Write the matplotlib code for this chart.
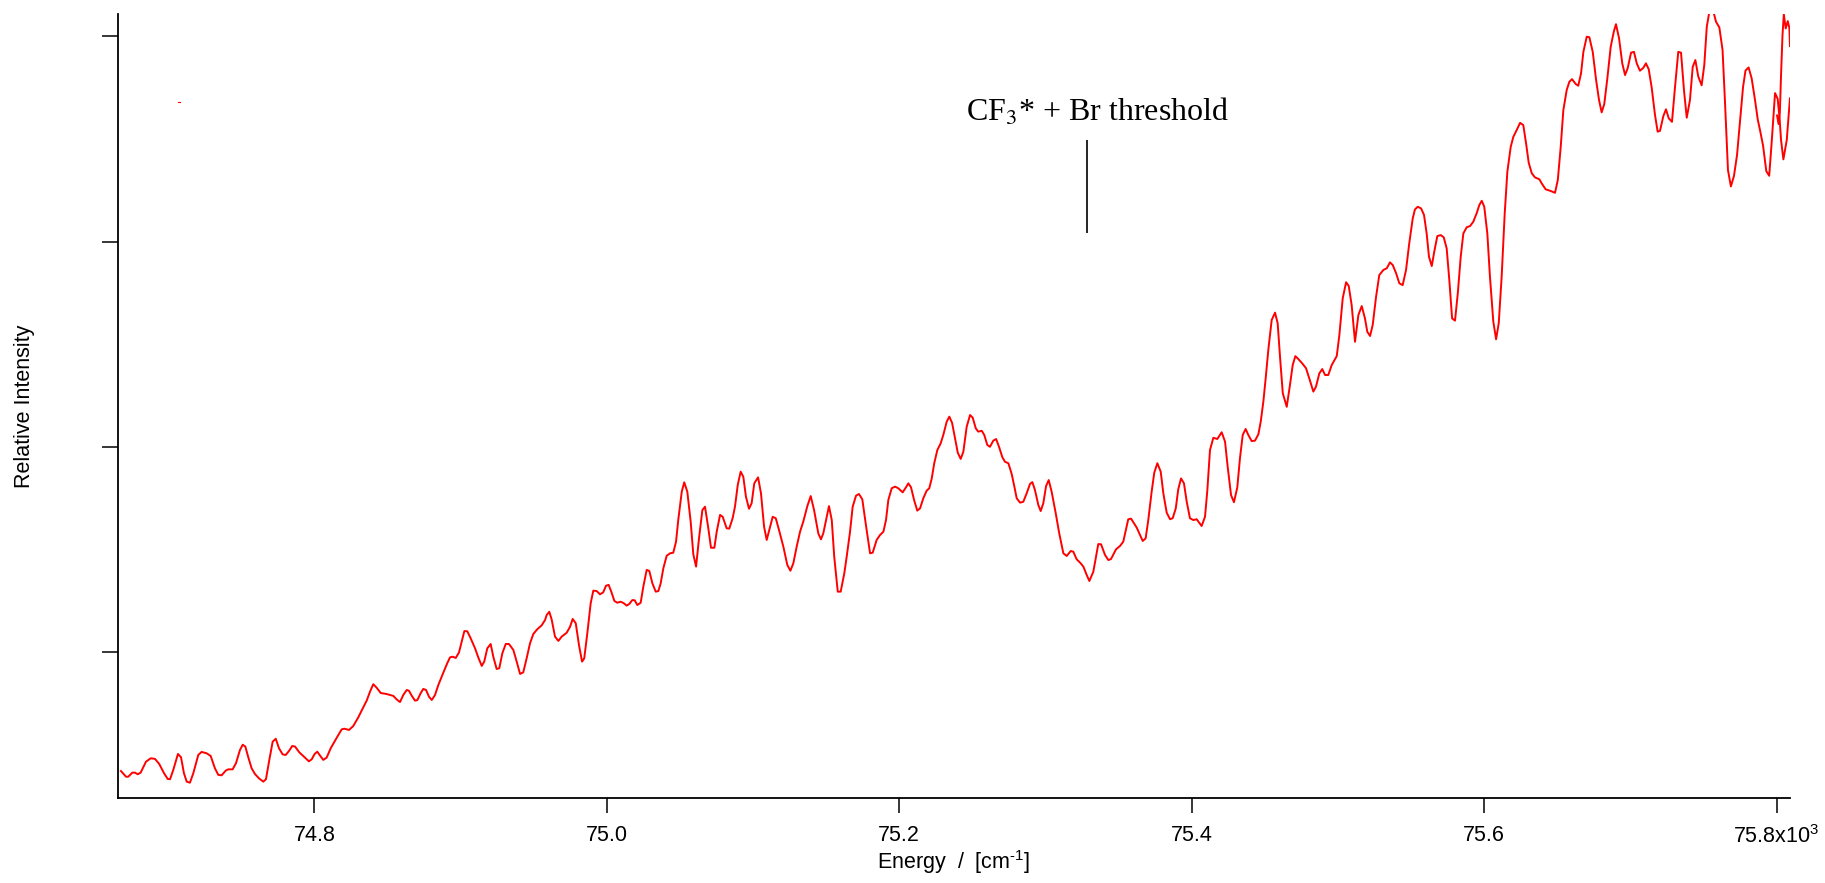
import numpy as np
import matplotlib
matplotlib.use("Agg")
import matplotlib.pyplot as plt
from matplotlib.ticker import FixedLocator, FuncFormatter

plt.rcParams["font.family"] = ["Liberation Sans", "DejaVu Sans"]
plt.rcParams["mathtext.fontset"] = "custom"
plt.rcParams["mathtext.rm"] = "Liberation Sans"
plt.rcParams["mathtext.it"] = "Liberation Sans:italic"

# photofragment excitation spectrum, energy in cm^-1, intensity in arb. units
energy_cm = [
    74667.6, 74671.1, 74672.6, 74675.4, 74677.2, 74679.1, 74681.1, 74684.7, 74688.0, 74690.9,
    74693.8, 74697.1, 74699.6, 74701.2, 74703.4, 74706.6, 74708.7, 74710.7, 74712.6, 74714.8,
    74717.1, 74720.5, 74722.8, 74726.3, 74729.0, 74731.9, 74734.2, 74736.5, 74739.3, 74741.0,
    74744.0, 74746.3, 74749.0, 74750.9, 74752.7, 74754.7, 74757.0, 74759.3, 74762.2, 74765.0,
    74766.8, 74769.1, 74771.4, 74773.5, 74775.7, 74778.2, 74780.3, 74782.6, 74784.8, 74786.7,
    74789.6, 74793.0, 74796.2, 74798.1, 74800.1, 74801.9, 74804.0, 74806.0, 74808.3, 74811.1,
    74815.2, 74818.6, 74820.4, 74823.6, 74826.5, 74830.0, 74832.7, 74835.7, 74838.0, 74840.2,
    74842.5, 74845.3, 74849.4, 74853.9, 74856.2, 74858.5, 74860.7, 74863.1, 74864.6, 74866.5,
    74868.7, 74870.3, 74872.6, 74874.4, 74876.3, 74878.3, 74880.2, 74882.4, 74884.7, 74888.1,
    74890.8, 74892.7, 74894.5, 74896.6, 74898.8, 74900.7, 74902.5, 74904.5, 74906.8, 74909.8,
    74912.0, 74914.4, 74916.1, 74918.2, 74920.5, 74922.3, 74924.6, 74926.4, 74928.5, 74930.8,
    74933.0, 74936.0, 74938.3, 74940.6, 74942.8, 74945.1, 74947.4, 74949.7, 74952.4, 74955.4,
    74957.7, 74958.8, 74960.6, 74962.2, 74964.5, 74966.8, 74969.1, 74972.5, 74974.8, 74976.6,
    74978.7, 74980.9, 74983.0, 74984.5, 74986.6, 74988.9, 74990.7, 74993.0, 74995.3, 74997.5,
    74999.4, 75001.2, 75003.0, 75005.1, 75007.1, 75009.4, 75011.7, 75013.5, 75015.3, 75017.4,
    75019.0, 75020.8, 75023.1, 75024.9, 75027.2, 75029.0, 75031.1, 75033.4, 75035.2, 75036.8,
    75038.6, 75040.9, 75043.2, 75045.4, 75047.3, 75048.8, 75051.2, 75052.9, 75055.0, 75057.3,
    75059.1, 75061.0, 75063.0, 75065.3, 75067.1, 75069.2, 75071.2, 75073.5, 75075.1, 75077.4,
    75079.2, 75081.9, 75083.7, 75086.0, 75087.6, 75089.5, 75091.5, 75093.3, 75095.1, 75097.2,
    75099.0, 75100.8, 75103.4, 75105.4, 75107.5, 75109.3, 75111.1, 75113.4, 75115.5, 75117.7,
    75120.7, 75123.4, 75125.5, 75127.5, 75129.8, 75132.1, 75134.3, 75137.1, 75139.4, 75141.7,
    75144.6, 75146.4, 75148.0, 75149.9, 75151.9, 75153.8, 75155.5, 75157.9, 75159.9, 75162.4,
    75164.0, 75166.3, 75168.1, 75170.4, 75172.4, 75174.7, 75177.0, 75180.0, 75181.8, 75184.5,
    75186.8, 75189.1, 75190.9, 75192.5, 75194.8, 75197.1, 75199.3, 75202.3, 75204.6, 75206.2,
    75208.0, 75210.1, 75212.3, 75214.2, 75216.4, 75218.7, 75220.5, 75222.2, 75223.9, 75226.0,
    75228.3, 75230.1, 75232.4, 75234.2, 75236.1, 75238.1, 75240.0, 75242.0, 75243.8, 75246.1,
    75248.4, 75250.2, 75252.3, 75254.0, 75256.4, 75258.1, 75260.2, 75262.0, 75264.3, 75266.2,
    75268.2, 75270.5, 75272.3, 75274.6, 75276.9, 75278.7, 75280.3, 75282.6, 75284.8, 75287.1,
    75289.4, 75291.0, 75292.8, 75295.1, 75296.7, 75298.5, 75300.4, 75302.2, 75304.2, 75307.0,
    75309.4, 75312.2, 75314.5, 75317.2, 75319.0, 75321.3, 75324.1, 75325.9, 75328.2, 75330.0,
    75332.7, 75336.1, 75338.0, 75340.7, 75343.0, 75344.8, 75348.2, 75351.0, 75353.2, 75356.6,
    75358.5, 75362.4, 75366.5, 75368.5, 75370.3, 75372.6, 75374.4, 75376.5, 75378.8, 75380.6,
    75382.9, 75385.2, 75387.0, 75389.1, 75390.8, 75392.7, 75394.7, 75396.6, 75398.8, 75401.1,
    75403.4, 75406.8, 75409.1, 75410.7, 75412.5, 75414.8, 75417.5, 75420.5, 75422.8, 75424.6,
    75426.9, 75428.9, 75431.2, 75433.0, 75434.9, 75436.9, 75438.7, 75441.0, 75443.3, 75445.6,
    75447.2, 75449.0, 75450.6, 75452.4, 75454.7, 75457.0, 75458.8, 75460.4, 75462.3, 75465.0,
    75467.2, 75469.1, 75470.9, 75472.9, 75475.9, 75478.2, 75480.4, 75483.2, 75485.0, 75487.3,
    75489.3, 75491.2, 75493.4, 75495.8, 75499.2, 75501.0, 75503.3, 75505.6, 75507.4, 75509.4,
    75511.7, 75514.0, 75516.3, 75518.5, 75520.1, 75522.0, 75523.8, 75526.1, 75528.3, 75531.1,
    75533.4, 75535.6, 75537.5, 75539.8, 75542.0, 75544.3, 75546.6, 75548.8, 75551.2, 75552.7,
    75554.6, 75556.9, 75558.9, 75560.7, 75562.3, 75564.2, 75565.9, 75568.0, 75570.3, 75572.4,
    75574.4, 75576.2, 75578.1, 75580.1, 75582.0, 75584.0, 75585.8, 75588.1, 75590.4, 75592.6,
    75594.9, 75596.7, 75598.4, 75600.1, 75602.2, 75604.0, 75606.3, 75608.2, 75610.0, 75612.0,
    75614.1, 75615.9, 75618.2, 75620.0, 75622.3, 75624.6, 75626.8, 75628.7, 75630.5, 75632.6,
    75634.8, 75637.8, 75639.4, 75642.1, 75645.1, 75648.5, 75650.4, 75652.4, 75654.2, 75656.5,
    75658.3, 75660.1, 75662.7, 75664.4, 75666.3, 75667.9, 75670.2, 75672.0, 75674.3, 75676.6,
    75678.6, 75680.4, 75682.2, 75684.3, 75686.6, 75688.7, 75690.2, 75692.3, 75694.5, 75696.4,
    75698.2, 75700.5, 75702.5, 75704.4, 75706.6, 75708.9, 75710.7, 75712.6, 75714.6, 75716.9,
    75718.7, 75720.3, 75722.6, 75724.4, 75726.3, 75728.5, 75730.6, 75732.8, 75734.7, 75736.7,
    75738.6, 75740.8, 75742.7, 75744.5, 75746.5, 75748.8, 75750.6, 75752.3, 75755.2, 75758.6,
    75760.9, 75763.1, 75764.8, 75766.8, 75768.8, 75770.9, 75773.0, 75775.4, 75777.1, 75778.8,
    75780.9, 75783.0, 75785.3, 75787.2, 75788.9, 75790.8, 75793.0, 75795.0, 75796.7, 75799.0,
    75800.8, 75802.1, 75803.1, 75804.7, 75807.0, 75809.2,
]

intensity = [
    0.420, 0.392, 0.392, 0.412, 0.412, 0.404, 0.412, 0.465, 0.482, 0.479,
    0.454, 0.409, 0.381, 0.380, 0.425, 0.503, 0.487, 0.409, 0.368, 0.363,
    0.409, 0.498, 0.513, 0.506, 0.493, 0.433, 0.401, 0.399, 0.422, 0.428,
    0.428, 0.458, 0.522, 0.548, 0.539, 0.487, 0.433, 0.405, 0.383, 0.368,
    0.380, 0.474, 0.563, 0.577, 0.531, 0.501, 0.498, 0.518, 0.542, 0.539,
    0.511, 0.488, 0.467, 0.477, 0.503, 0.514, 0.493, 0.474, 0.485, 0.531,
    0.582, 0.623, 0.626, 0.620, 0.639, 0.682, 0.721, 0.763, 0.807, 0.843,
    0.826, 0.800, 0.795, 0.786, 0.769, 0.756, 0.790, 0.815, 0.811, 0.787,
    0.763, 0.765, 0.799, 0.820, 0.815, 0.782, 0.766, 0.790, 0.839, 0.899,
    0.945, 0.974, 0.977, 0.971, 0.997, 1.050, 1.102, 1.101, 1.067, 1.018,
    0.974, 0.932, 0.953, 1.018, 1.039, 0.977, 0.917, 0.921, 0.994, 1.039,
    1.039, 1.010, 0.953, 0.893, 0.901, 0.969, 1.042, 1.088, 1.111, 1.130,
    1.156, 1.180, 1.196, 1.159, 1.075, 1.054, 1.075, 1.094, 1.123, 1.161,
    1.140, 1.034, 0.953, 0.969, 1.091, 1.237, 1.299, 1.297, 1.281, 1.291,
    1.323, 1.327, 1.294, 1.249, 1.240, 1.245, 1.237, 1.226, 1.234, 1.253,
    1.252, 1.229, 1.240, 1.318, 1.400, 1.395, 1.335, 1.294, 1.297, 1.335,
    1.408, 1.469, 1.481, 1.484, 1.538, 1.643, 1.781, 1.827, 1.781, 1.635,
    1.476, 1.416, 1.554, 1.692, 1.708, 1.611, 1.508, 1.508, 1.586, 1.668,
    1.659, 1.603, 1.601, 1.652, 1.708, 1.814, 1.879, 1.854, 1.757, 1.698,
    1.725, 1.822, 1.851, 1.773, 1.611, 1.546, 1.595, 1.659, 1.652, 1.595,
    1.513, 1.424, 1.396, 1.432, 1.513, 1.586, 1.635, 1.711, 1.760, 1.692,
    1.578, 1.549, 1.578, 1.643, 1.711, 1.643, 1.464, 1.294, 1.294, 1.384,
    1.464, 1.586, 1.708, 1.762, 1.770, 1.744, 1.627, 1.481, 1.484, 1.546,
    1.570, 1.586, 1.643, 1.741, 1.798, 1.806, 1.798, 1.778, 1.803, 1.822,
    1.803, 1.741, 1.689, 1.700, 1.749, 1.786, 1.798, 1.846, 1.920, 1.984,
    2.017, 2.058, 2.122, 2.147, 2.117, 2.041, 1.971, 1.941, 1.976, 2.098,
    2.155, 2.142, 2.090, 2.074, 2.078, 2.058, 2.009, 2.000, 2.030, 2.038,
    2.000, 1.949, 1.927, 1.920, 1.867, 1.806, 1.749, 1.728, 1.732, 1.773,
    1.819, 1.828, 1.789, 1.716, 1.687, 1.725, 1.809, 1.838, 1.781, 1.676,
    1.578, 1.481, 1.468, 1.492, 1.489, 1.452, 1.432, 1.416, 1.375, 1.346,
    1.391, 1.526, 1.525, 1.473, 1.448, 1.453, 1.500, 1.517, 1.538, 1.647,
    1.650, 1.606, 1.541, 1.554, 1.643, 1.781, 1.874, 1.920, 1.879, 1.773,
    1.679, 1.647, 1.652, 1.700, 1.793, 1.846, 1.822, 1.732, 1.652, 1.643,
    1.647, 1.614, 1.659, 1.789, 1.984, 2.044, 2.038, 2.071, 2.025, 1.903,
    1.765, 1.730, 1.803, 1.944, 2.058, 2.087, 2.058, 2.028, 2.030, 2.061,
    2.122, 2.220, 2.334, 2.472, 2.618, 2.654, 2.602, 2.439, 2.261, 2.195,
    2.301, 2.399, 2.442, 2.428, 2.404, 2.383, 2.334, 2.269, 2.293, 2.358,
    2.379, 2.350, 2.350, 2.399, 2.442, 2.545, 2.724, 2.802, 2.784, 2.691,
    2.512, 2.642, 2.686, 2.626, 2.561, 2.540, 2.594, 2.731, 2.837, 2.862,
    2.870, 2.899, 2.886, 2.846, 2.797, 2.788, 2.862, 2.992, 3.114, 3.157,
    3.170, 3.162, 3.130, 3.040, 2.926, 2.881, 2.951, 3.027, 3.032, 3.021,
    2.967, 2.813, 2.626, 2.615, 2.748, 2.926, 3.040, 3.070, 3.076, 3.097,
    3.138, 3.178, 3.199, 3.170, 3.040, 2.829, 2.610, 2.524, 2.602, 2.829,
    3.138, 3.341, 3.462, 3.511, 3.544, 3.579, 3.568, 3.479, 3.385, 3.333,
    3.313, 3.304, 3.284, 3.255, 3.248, 3.238, 3.300, 3.462, 3.641, 3.739,
    3.779, 3.792, 3.768, 3.760, 3.820, 3.925, 3.999, 3.996, 3.925, 3.788,
    3.690, 3.630, 3.671, 3.796, 3.950, 4.023, 4.060, 3.991, 3.869, 3.812,
    3.845, 3.921, 3.925, 3.869, 3.833, 3.847, 3.869, 3.840, 3.752, 3.617,
    3.536, 3.540, 3.612, 3.645, 3.601, 3.584, 3.755, 3.925, 3.921, 3.739,
    3.604, 3.690, 3.852, 3.885, 3.804, 3.762, 3.861, 4.047, 4.168, 4.072,
    4.044, 3.934, 3.675, 3.349, 3.269, 3.320, 3.422, 3.617, 3.753, 3.834,
    3.849, 3.796, 3.690, 3.594, 3.537, 3.468, 3.344, 3.321, 3.485, 3.724,
    3.696, 3.602, 3.495, 3.401, 3.495, 3.698,
]

# start of the overlapping second scan, running back in from the high-energy end
tail_energy_cm = [75809.2, 75808.8, 75807.7, 75806.3, 75805.0, 75804.1, 75803.1, 75802.3, 75801.4, 75800.4]
tail_intensity = [3.953, 4.041, 4.075, 4.039, 4.109, 4.007, 3.812, 3.632, 3.573, 3.615]

# lone stray point of the second scan
stray_energy_cm = [74706.3, 74708.0]
stray_intensity = [3.680, 3.680]

# CF3* + Br dissociation threshold marker
threshold_cm = 75328.6
threshold_span = (3.042, 3.495)
label_pos = (75335.6, 3.589)

x_ticks = [74800, 75000, 75200, 75400, 75600, 75800]
y_ticks = [1, 2, 3, 4]
x_range = (74665.4, 75809.2)
y_range = (0.2885, 4.108)


def energy_label(value, pos):
    text = f"{value / 1000:.1f}"
    if np.isclose(value, x_ticks[-1]):
        text += r"x10$^{3}$"
    return text


fig = plt.figure(figsize=(18.25, 8.83), dpi=100)
ax = fig.add_axes([0.0645, 0.0963, 0.9163, 0.8875])

ax.plot(energy_cm, intensity, color="#ff0000", lw=1.4)
ax.plot(tail_energy_cm, tail_intensity, color="#ff0000", lw=1.4)
ax.plot(stray_energy_cm, stray_intensity, color="#ff0000", lw=0.8)

ax.vlines(threshold_cm, *threshold_span, color="black", lw=1.2)
ax.text(label_pos[0], label_pos[1], r"CF$_3$* + Br threshold",
        ha="center", va="baseline", fontsize=23,
        family=["Liberation Serif", "DejaVu Serif"], math_fontfamily="stix")

ax.set_xlim(*x_range)
ax.set_ylim(*y_range)

ax.xaxis.set_major_locator(FixedLocator(x_ticks))
ax.xaxis.set_major_formatter(FuncFormatter(energy_label))
ax.yaxis.set_major_locator(FixedLocator(y_ticks))
ax.set_yticklabels([])

for side in ("top", "right"):
    ax.spines[side].set_visible(False)
for side in ("left", "bottom"):
    ax.spines[side].set_linewidth(1.3)

ax.tick_params(axis="x", direction="out", length=10.8, width=1.1, pad=9, labelsize=15.5)
ax.tick_params(axis="y", direction="out", length=11.5, width=1.1)

ax.set_xlabel(r"Energy  /  [cm$^{\text{-}1}$]", fontsize=15.5)
ax.xaxis.set_label_coords(0.5, -0.064)
ax.set_ylabel("Relative Intensity", fontsize=15.5)
ax.yaxis.set_label_coords(-0.0495, 0.5)

fig.savefig("out.png", dpi=100)
